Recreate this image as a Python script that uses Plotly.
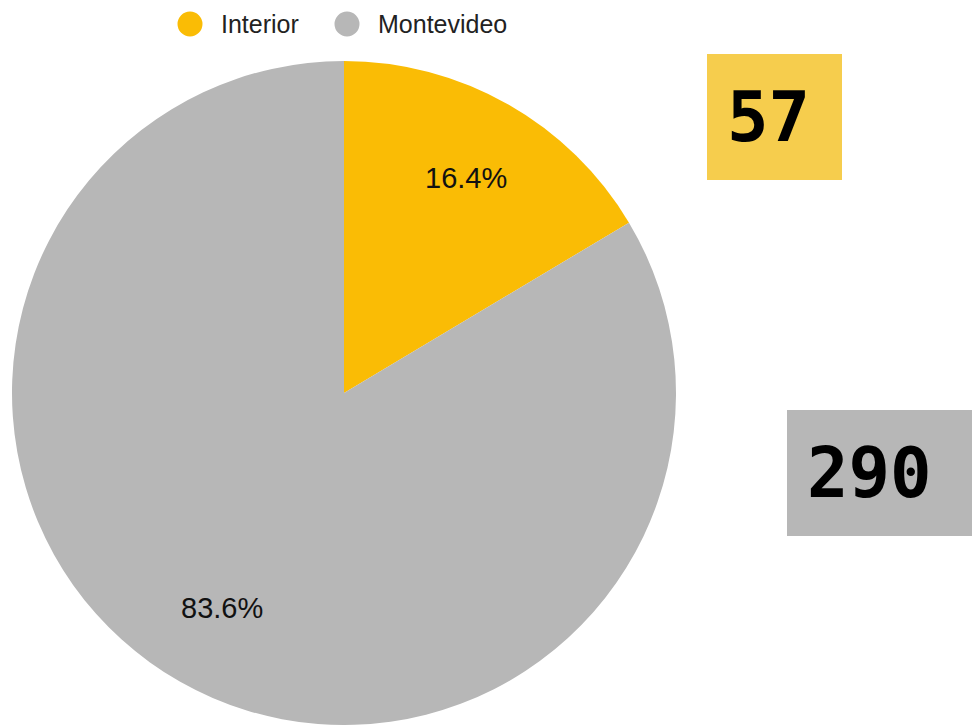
import math

import plotly.graph_objects as go

# --- data ---
regions = ["Interior", "Montevideo"]
counts = [57, 290]
slice_colors = ["#FABC05", "#B7B7B7"]
box_colors = ["#F6CD4D", "#B7B7B7"]

# page is shifted by the 8px body margin
OFF = 8
W, H = 980, 725 - OFF


def px_x(x):
    # page pixel -> paper coord
    return (x - OFF) / W


def px_y(y):
    return 1 - (y - OFF) / H


# pie geometry in page pixels
CX, CY, R = 344, 393, 332
LABEL_FRAC = 0.745

fig = go.Figure()

fig.add_trace(
    go.Pie(
        labels=regions,
        values=counts,
        sort=False,
        direction="clockwise",
        rotation=0,
        marker=dict(colors=slice_colors, line=dict(width=0)),
        textinfo="none",
        showlegend=False,
        domain=dict(x=[px_x(CX - R), px_x(CX + R)], y=[px_y(CY + R), px_y(CY - R)]),
        hoverinfo="label+value+percent",
    )
)

# --- percentage labels, placed along each slice's mid angle ---
total = sum(counts)
cum = 0
for n in counts:
    mid = (cum + n / 2) / total * 2 * math.pi
    cum += n
    lx = CX + R * LABEL_FRAC * math.sin(mid)
    ly = CY - R * LABEL_FRAC * math.cos(mid)
    fig.add_annotation(
        x=px_x(lx),
        y=px_y(ly),
        xref="paper",
        yref="paper",
        text=f"{n / total:.1%}",
        showarrow=False,
        font=dict(family="Liberation Sans, Arial, sans-serif", size=29, color="#111111"),
        xanchor="center",
        yanchor="middle",
    )

# --- legend: big circles + labels across the top ---
legend_items = [(190, 221), (347, 378)]  # circle centre x, text left x
LEG_Y, LEG_D = 24, 25
for (mx, tx), name, color in zip(legend_items, regions, slice_colors):
    fig.add_shape(
        type="circle",
        xref="paper",
        yref="paper",
        x0=px_x(mx - LEG_D / 2),
        x1=px_x(mx + LEG_D / 2),
        y0=px_y(LEG_Y + LEG_D / 2),
        y1=px_y(LEG_Y - LEG_D / 2),
        fillcolor=color,
        line=dict(width=0),
    )
    fig.add_annotation(
        x=px_x(tx),
        y=px_y(LEG_Y),
        xref="paper",
        yref="paper",
        text=name,
        showarrow=False,
        font=dict(family="Liberation Sans, Arial, sans-serif", size=25, color="#222222"),
        xanchor="left",
        yanchor="middle",
        xshift=-2,
    )

# --- count boxes on the right ---
boxes = [
    # (x0, y0, x1, y1) in page pixels, text centre x
    ((707, 54, 842, 180), 768),
    ((787, 410, 995, 536), 869),
]

for ((x0, y0, x1, y1), tx), color, n in zip(boxes, box_colors, counts):
    fig.add_shape(
        type="rect",
        xref="paper",
        yref="paper",
        x0=px_x(x0),
        x1=px_x(x1),
        y0=px_y(y1),
        y1=px_y(y0),
        fillcolor=color,
        line=dict(width=0),
        layer="above",
    )
    fig.add_annotation(
        x=px_x(tx),
        y=px_y((y0 + y1) / 2),
        xref="paper",
        yref="paper",
        text=f"<b>{n}</b>",
        showarrow=False,
        font=dict(family="DejaVu Sans Mono, monospace", size=69, color="#000000"),
        xanchor="center",
        yanchor="middle",
    )

fig.update_layout(
    width=W,
    height=H,
    margin=dict(l=0, r=0, t=0, b=0),
    paper_bgcolor="white",
    plot_bgcolor="white",
    showlegend=False,
)

fig.write_html("out.html")
